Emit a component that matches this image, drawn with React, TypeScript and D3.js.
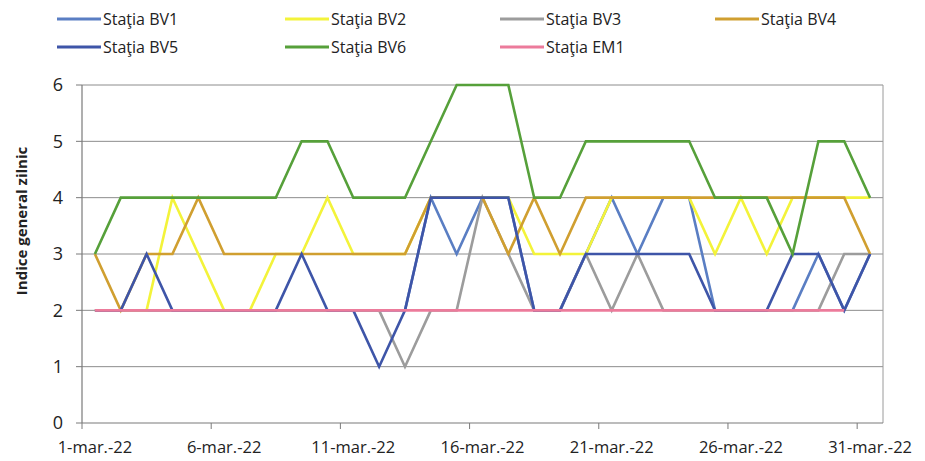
import React from "react";
import { scaleBand, scaleLinear, line, range } from "d3";

const days = range(1, 32);
const xLabels = ["1-mar.-22", "6-mar.-22", "11-mar.-22", "16-mar.-22", "21-mar.-22", "26-mar.-22", "31-mar.-22"];
const labelDays = [1, 6, 11, 16, 21, 26, 31];
const yTicks = [0, 1, 2, 3, 4, 5, 6];

const bv1 = [2, 2, 2, 2, 2, 2, 2, 2, 2, 2, 2, 2, 2, 4, 3, 4, 4, 2, 2, 3, 4, 3, 4, 4, 2, 2, 2, 2, 3, 2, 3];
const bv2 = [2, 2, 2, 4, 3, 2, 2, 3, 3, 4, 3, 3, 3, 4, 4, 4, 4, 3, 3, 3, 4, 4, 4, 4, 3, 4, 3, 4, 4, 4, 4];
const bv3 = [2, 2, 2, 2, 2, 2, 2, 2, 2, 2, 2, 2, 1, 2, 2, 4, 3, 2, 2, 3, 2, 3, 2, 2, 2, 2, 2, 2, 2, 3, 3];
const bv4 = [3, 2, 3, 3, 4, 3, 3, 3, 3, 3, 3, 3, 3, 4, 4, 4, 3, 4, 3, 4, 4, 4, 4, 4, 4, 4, 4, 4, 4, 4, 3];
const bv5 = [2, 2, 3, 2, 2, 2, 2, 2, 3, 2, 2, 1, 2, 4, 4, 4, 4, 2, 2, 3, 3, 3, 3, 3, 2, 2, 2, 3, 3, 2, 3];
const bv6 = [3, 4, 4, 4, 4, 4, 4, 4, 5, 5, 4, 4, 4, 5, 6, 6, 6, 4, 4, 5, 5, 5, 5, 5, 4, 4, 4, 3, 5, 5, 4];
const em1 = [2, 2, 2, 2, 2, 2, 2, 2, 2, 2, 2, 2, 2, 2, 2, 2, 2, 2, 2, 2, 2, 2, 2, 2, 2, 2, 2, 2, 2, 2, null];

const series = [
  { name: "Staţia BV1", values: bv1, color: "#5a7ec3" },
  { name: "Staţia BV2", values: bv2, color: "#f3f33a" },
  { name: "Staţia BV3", values: bv3, color: "#9c9c9c" },
  { name: "Staţia BV4", values: bv4, color: "#d09f30" },
  { name: "Staţia BV5", values: bv5, color: "#3e55a8" },
  { name: "Staţia BV6", values: bv6, color: "#56a03a" },
  { name: "Staţia EM1", values: em1, color: "#ec7b9b" },
];

const font = "'Open Sans', 'Noto Sans', sans-serif";

const App = () => {
  const left = 82;
  const right = 883;
  const top = 85;
  const bottom = 423;

  const x = scaleBand<number>().domain(days).range([left, right]).padding(0);
  const y = scaleLinear().domain([0, 6]).range([bottom, top]);
  const cx = (d: number) => (x(d) as number) + x.bandwidth() / 2;

  const path = line<number | null>()
    .defined((v) => v !== null)
    .x((_, i) => cx(days[i]))
    .y((v) => y(v as number));

  const legendCols = [57, 285, 500, 715];
  const legendRows = [19, 47];

  return (
    <svg
      width={925}
      height={461}
      style={{ position: "absolute", left: 0, top: 0, background: "#fff" }}
    >
      {/* gridlines */}
      {yTicks.slice(1).map((t) => (
        <line key={t} x1={left} x2={right} y1={y(t)} y2={y(t)} stroke="#8c8c8c" strokeWidth={1} />
      ))}
      <line x1={right} x2={right} y1={top} y2={bottom} stroke="#9a9a9a" strokeWidth={1} />

      {/* y axis */}
      <line x1={left} x2={left} y1={top} y2={bottom} stroke="#7a7a7a" strokeWidth={1.2} />
      {yTicks.map((t) => (
        <g key={t}>
          <line x1={left - 6} x2={left} y1={y(t)} y2={y(t)} stroke="#7a7a7a" />
          <text x={63} y={y(t)} dy="0.36em" textAnchor="end" fontFamily={font} fontSize={18} fill="#222">
            {t}
          </text>
        </g>
      ))}
      <text
        transform={`translate(22,${(top + bottom) / 2 - 33}) rotate(-90)`}
        textAnchor="middle"
        dy="0.35em"
        fontFamily={font}
        fontWeight="bold"
        fontSize={15}
        fill="#222"
      >
        Indice general zilnic
      </text>

      {/* x axis */}
      <line x1={left} x2={right} y1={bottom} y2={bottom} stroke="#7a7a7a" strokeWidth={1.2} />
      {labelDays.map((d, i) => (
        <g key={d}>
          <line x1={x(d)} x2={x(d)} y1={bottom} y2={bottom + 6} stroke="#7a7a7a" />
          <text x={cx(d)} y={447} dy="0.35em" textAnchor="middle" fontFamily={font} fontSize={16.5} fill="#222">
            {xLabels[i]}
          </text>
        </g>
      ))}

      {/* series */}
      {series.map((s) => (
        <path
          key={s.name}
          d={path(s.values) || ""}
          fill="none"
          stroke={s.color}
          strokeWidth={2.6}
          strokeLinejoin="miter"
        />
      ))}

      {/* legend */}
      {series.map((s, i) => {
        const lx = legendCols[i % 4];
        const ly = legendRows[Math.floor(i / 4)];
        return (
          <g key={s.name}>
            <line x1={lx} x2={lx + 44} y1={ly} y2={ly} stroke={s.color} strokeWidth={3} />
            <text x={lx + 46} y={ly} dy="0.35em" fontFamily={font} fontSize={16} fill="#222">
              {s.name}
            </text>
          </g>
        );
      })}
    </svg>
  );
};

export default App;
